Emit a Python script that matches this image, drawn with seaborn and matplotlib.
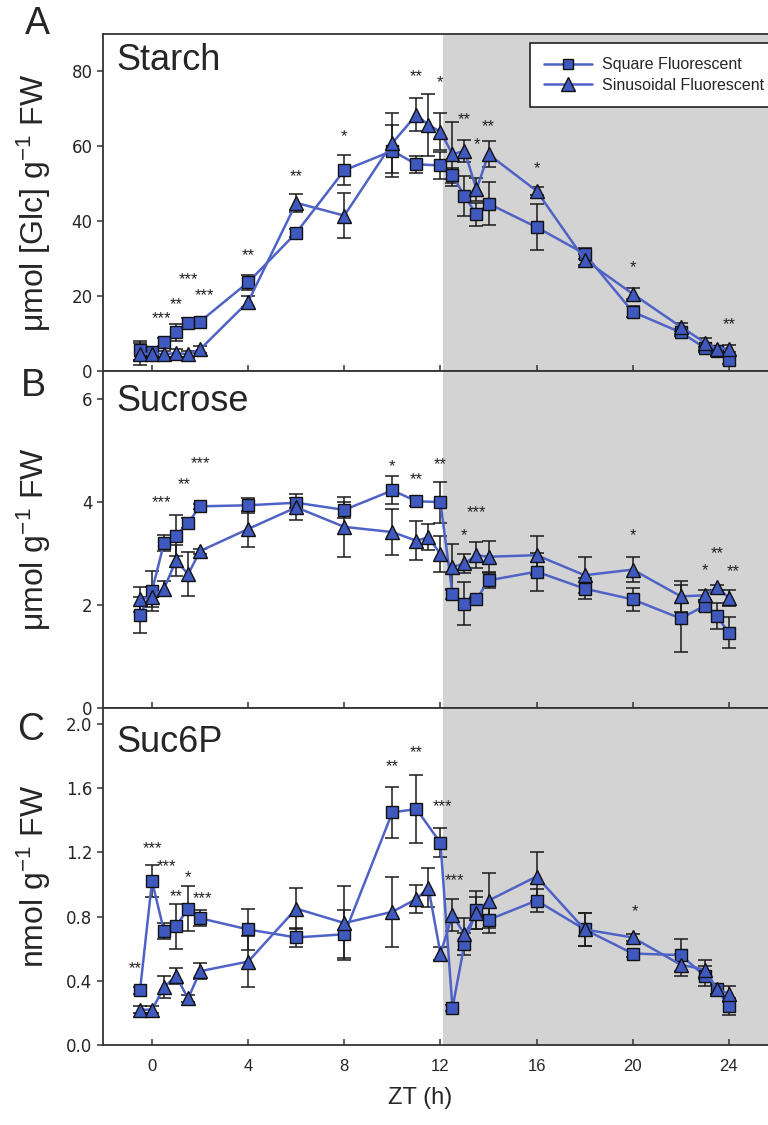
import numpy as np
import pandas as pd
import seaborn as sns
import matplotlib.pyplot as plt

# sampling times (h)
zt = [-0.5, 0, 0.5, 1, 1.5, 2, 4, 6, 8, 10, 11, 11.5, 12, 12.5, 13, 13.5, 14,
      16, 18, 20, 22, 23, 23.5, 24]
nan = np.nan

starch_sq = [5.5, 5.0, 7.8, 10.3, 12.9, 13.2, 23.7, 36.9, 53.6, 58.8, 55.2, nan, 54.9,
             52.3, 46.7, 41.8, 44.7, 38.4, 31.3, 15.8, 10.3, 6.2, 5.3, 3.0]
starch_sq_err = [2.5, 1.5, 1.0, 2.3, 1.2, 1.0, 2.0, 1.0, 4.0, 7.0, 2.3, nan, 3.5,
                 2.0, 5.4, 3.0, 5.7, 6.2, 1.5, 1.5, 1.0, 1.0, 0.8, 1.0]
starch_sin = [4.5, 4.6, 4.5, 4.8, 4.5, 5.8, 18.5, 44.9, 41.5, 60.9, 68.4, 65.7, 63.9,
              57.9, 58.8, 48.5, 57.9, 48.1, 29.7, 20.6, 11.8, 7.6, 6.0, 6.0]
starch_sin_err = [3.0, 1.0, 0.8, 1.0, 0.8, 1.0, 1.5, 2.5, 6.0, 8.0, 4.4, 8.4, 5.0,
                  8.6, 3.0, 3.0, 3.5, 1.0, 1.5, 1.5, 1.0, 1.2, 0.8, 1.0]

sucrose_sq = [1.81, 2.28, 3.21, 3.35, 3.60, 3.92, 3.94, 3.99, 3.85, 4.23, 4.02, nan, 4.00,
              2.21, 2.03, 2.11, 2.48, 2.65, 2.32, 2.11, 1.74, 1.99, 1.79, 1.46]
sucrose_sq_err = [0.35, 0.39, 0.15, 0.40, 0.10, 0.05, 0.15, 0.10, 0.15, 0.27, 0.10, nan, 0.40,
                  0.10, 0.42, 0.05, 0.15, 0.37, 0.20, 0.22, 0.66, 0.10, 0.25, 0.30]
sucrose_sin = [2.11, 2.16, 2.32, 2.87, 2.60, 3.05, 3.48, 3.90, 3.52, 3.42, 3.25, 3.32, 2.99,
               2.74, 2.81, 2.97, 2.94, 2.97, 2.58, 2.69, 2.17, 2.19, 2.35, 2.14]
sucrose_sin_err = [0.25, 0.20, 0.15, 0.30, 0.43, 0.05, 0.35, 0.25, 0.58, 0.45, 0.38, 0.25, 0.35,
                   0.45, 0.18, 0.25, 0.30, 0.38, 0.35, 0.25, 0.30, 0.10, 0.05, 0.15]

suc6p_sq = [0.34, 1.02, 0.71, 0.74, 0.85, 0.79, 0.72, 0.67, 0.69, 1.45, 1.47, nan, 1.26,
            0.23, 0.63, 0.84, 0.78, 0.90, 0.72, 0.57, 0.56, 0.43, 0.35, 0.24]
suc6p_sq_err = [0.02, 0.10, 0.05, 0.14, 0.14, 0.05, 0.13, 0.06, 0.15, 0.16, 0.21, nan, 0.09,
                0.02, 0.07, 0.12, 0.08, 0.07, 0.10, 0.02, 0.10, 0.06, 0.03, 0.05]
suc6p_sin = [0.22, 0.22, 0.36, 0.43, 0.29, 0.46, 0.52, 0.85, 0.76, 0.83, 0.91, 0.98, 0.57,
             0.81, 0.69, 0.82, 0.90, 1.05, 0.72, 0.67, 0.50, 0.47, 0.35, 0.32]
suc6p_sin_err = [0.02, 0.02, 0.07, 0.05, 0.02, 0.05, 0.16, 0.13, 0.23, 0.22, 0.09, 0.12, 0.04,
                 0.10, 0.10, 0.10, 0.17, 0.15, 0.10, 0.02, 0.07, 0.06, 0.03, 0.05]

# significance marks: x, y, label
starch_sig_x = [0.4, 1.0, 1.5, 2.2, 4, 6, 8, 11, 12, 13, 13.5, 14, 16, 20, 24]
starch_sig_y = [15, 18.9, 25.5, 21.2, 32, 53, 63.7, 79.8, 78, 68.2, 61.5, 66.4, 55.2, 28.6, 13.4]
starch_sig = ['***', '**', '***', '***', '**', '**', '*', '**', '*', '**', '*', '**', '*', '*', '**']

sucrose_sig_x = [0.4, 1.35, 2.0, 10, 11, 12, 13, 13.5, 20, 23, 23.5, 24.2]
sucrose_sig_y = [4.08, 4.42, 4.83, 4.77, 4.52, 4.82, 3.44, 3.87, 3.43, 2.75, 3.08, 2.74]
sucrose_sig = ['***', '**', '***', '*', '**', '**', '*', '***', '*', '*', '**', '**']

suc6p_sig_x = [-0.7, 0, 0.6, 1.0, 1.5, 2.1, 10, 11, 12.1, 12.6, 20.1]
suc6p_sig_y = [0.50, 1.25, 1.135, 0.95, 1.07, 0.94, 1.76, 1.85, 1.51, 1.05, 0.86]
suc6p_sig = ['**', '***', '***', '**', '*', '***', '**', '**', '***', '***', '*']

series_names = ['Square Fluorescent', 'Sinusoidal Fluorescent']
LINE = '#4f63c6'
FILL = '#3f59bf'

sns.set_theme(style="ticks")
plt.rcParams['font.family'] = ['Liberation Sans', 'DejaVu Sans']
plt.rcParams['mathtext.fontset'] = 'custom'
plt.rcParams['mathtext.rm'] = 'Liberation Sans'
plt.rcParams['mathtext.it'] = 'Liberation Sans'


def long_frame(sq, sin):
    return pd.DataFrame({
        'ZT': zt + zt,
        'value': sq + sin,
        'series': [series_names[0]] * len(zt) + [series_names[1]] * len(zt),
    }).dropna()


def draw_panel(ax, sq, sq_err, sin, sin_err, sig_x, sig_y, sig, ylim, yticks, yfmt,
               title, title_y, ylabel, legend=False):
    ax.axvspan(12.1, 30, color='#d3d3d3', zorder=0, lw=0)
    for y, e in ((sq, sq_err), (sin, sin_err)):
        ax.errorbar(zt, y, yerr=e, fmt='none', ecolor='#1a1a1a', elinewidth=1.1,
                    capsize=5, capthick=1.1, zorder=1.5)
    sns.lineplot(data=long_frame(sq, sin), x='ZT', y='value', style='series',
                 style_order=series_names, markers={series_names[0]: 's', series_names[1]: '^'},
                 dashes=False, color=LINE, lw=1.8, markerfacecolor=FILL,
                 markeredgecolor='#111111', markeredgewidth=1.0, sort=False,
                 legend=legend, ax=ax, zorder=2)
    for ln in ax.lines:
        if ln.get_marker() == '^':
            ln.set_markersize(10.5)
        elif ln.get_marker() == 's':
            ln.set_markersize(8)
    # stars: glyph sits high in the em box, so nudge down a little
    for x, y, s in zip(sig_x, sig_y, sig):
        ax.annotate(s, (x, y), xytext=(0, -3), textcoords='offset points',
                    ha='center', va='center', fontsize=12, color='#222222')
    ax.text(0.02, title_y, title, transform=ax.transAxes, ha='left', va='top', fontsize=26)
    ax.set_xlim(-2.04, 25.67)
    ax.set_ylim(*ylim)
    ax.set_yticks(yticks)
    ax.set_yticklabels([yfmt.format(v) for v in yticks], family='DejaVu Sans', fontsize=12)
    ax.set_xticks([0, 4, 8, 12, 16, 20, 24])
    ax.tick_params(axis='x', direction='in', length=4, width=1.1, color='#333333', pad=10)
    ax.tick_params(axis='y', direction='out', length=4, width=1.1, color='#333333')
    for side in ('left', 'bottom', 'top'):
        ax.spines[side].set_color('#333333')
        ax.spines[side].set_linewidth(1.3)
    ax.spines['right'].set_visible(False)
    ax.set_xlabel('')
    ax.set_ylabel(ylabel, fontsize=23)
    ax.yaxis.set_label_coords(-0.075, 0.5)


fig = plt.figure(figsize=(7.68, 11.25), dpi=100)
left, width = 103 / 768, 666 / 768
ax_a = fig.add_axes([left, 1 - 371 / 1125, width, 337 / 1125])
ax_b = fig.add_axes([left, 1 - 708 / 1125, width, 337 / 1125])
ax_c = fig.add_axes([left, 1 - 1045 / 1125, width, 337 / 1125])

draw_panel(ax_a, starch_sq, starch_sq_err, starch_sin, starch_sin_err,
           starch_sig_x, starch_sig_y, starch_sig, (0, 90), [0, 20, 40, 60, 80], '{:.0f}',
           'Starch', 0.972, r'μmol [Glc] g$^{-1}$ FW', legend=True)
draw_panel(ax_b, sucrose_sq, sucrose_sq_err, sucrose_sin, sucrose_sin_err,
           sucrose_sig_x, sucrose_sig_y, sucrose_sig, (0, 6.55), [0, 2, 4, 6], '{:.0f}',
           'Sucrose', 0.96, r'μmol g$^{-1}$ FW')
draw_panel(ax_c, suc6p_sq, suc6p_sq_err, suc6p_sin, suc6p_sin_err,
           suc6p_sig_x, suc6p_sig_y, suc6p_sig, (0, 2.1), [0, 0.4, 0.8, 1.2, 1.6, 2.0], '{:.1f}',
           'Suc6P', 0.95, r'nmol g$^{-1}$ FW')

ax_a.tick_params(axis='x', labelbottom=False)
ax_b.tick_params(axis='x', labelbottom=False)
ax_c.set_xticklabels([str(v) for v in [0, 4, 8, 12, 16, 20, 24]], fontsize=12)

sns.move_legend(ax_a, loc='upper left', bbox_to_anchor=(0.641, 0.973), title=None,
                frameon=True, fancybox=False, fontsize=11.5, borderaxespad=0,
                handlelength=3.0, labelspacing=0.35, borderpad=0.9, handletextpad=0.6)
leg = ax_a.get_legend()
leg.get_frame().set_edgecolor('#222222')
leg.get_frame().set_linewidth(1.2)
leg.get_frame().set_alpha(1)
for h in leg.legend_handles:
    h.set_markersize(10 if h.get_marker() == '^' else 7.5)
    h.set_markerfacecolor(FILL)
    h.set_markeredgecolor('#111111')

fig.text(420 / 768, 1 - 1098 / 1125, 'ZT (h)', ha='center', va='center', fontsize=17)
for lab, x, y in (('A', 37, 24), ('B', 33, 386), ('C', 31, 730)):
    fig.text(x / 768, 1 - y / 1125, lab, ha='center', va='center', fontsize=27)

fig.savefig('out.png', dpi=100)
